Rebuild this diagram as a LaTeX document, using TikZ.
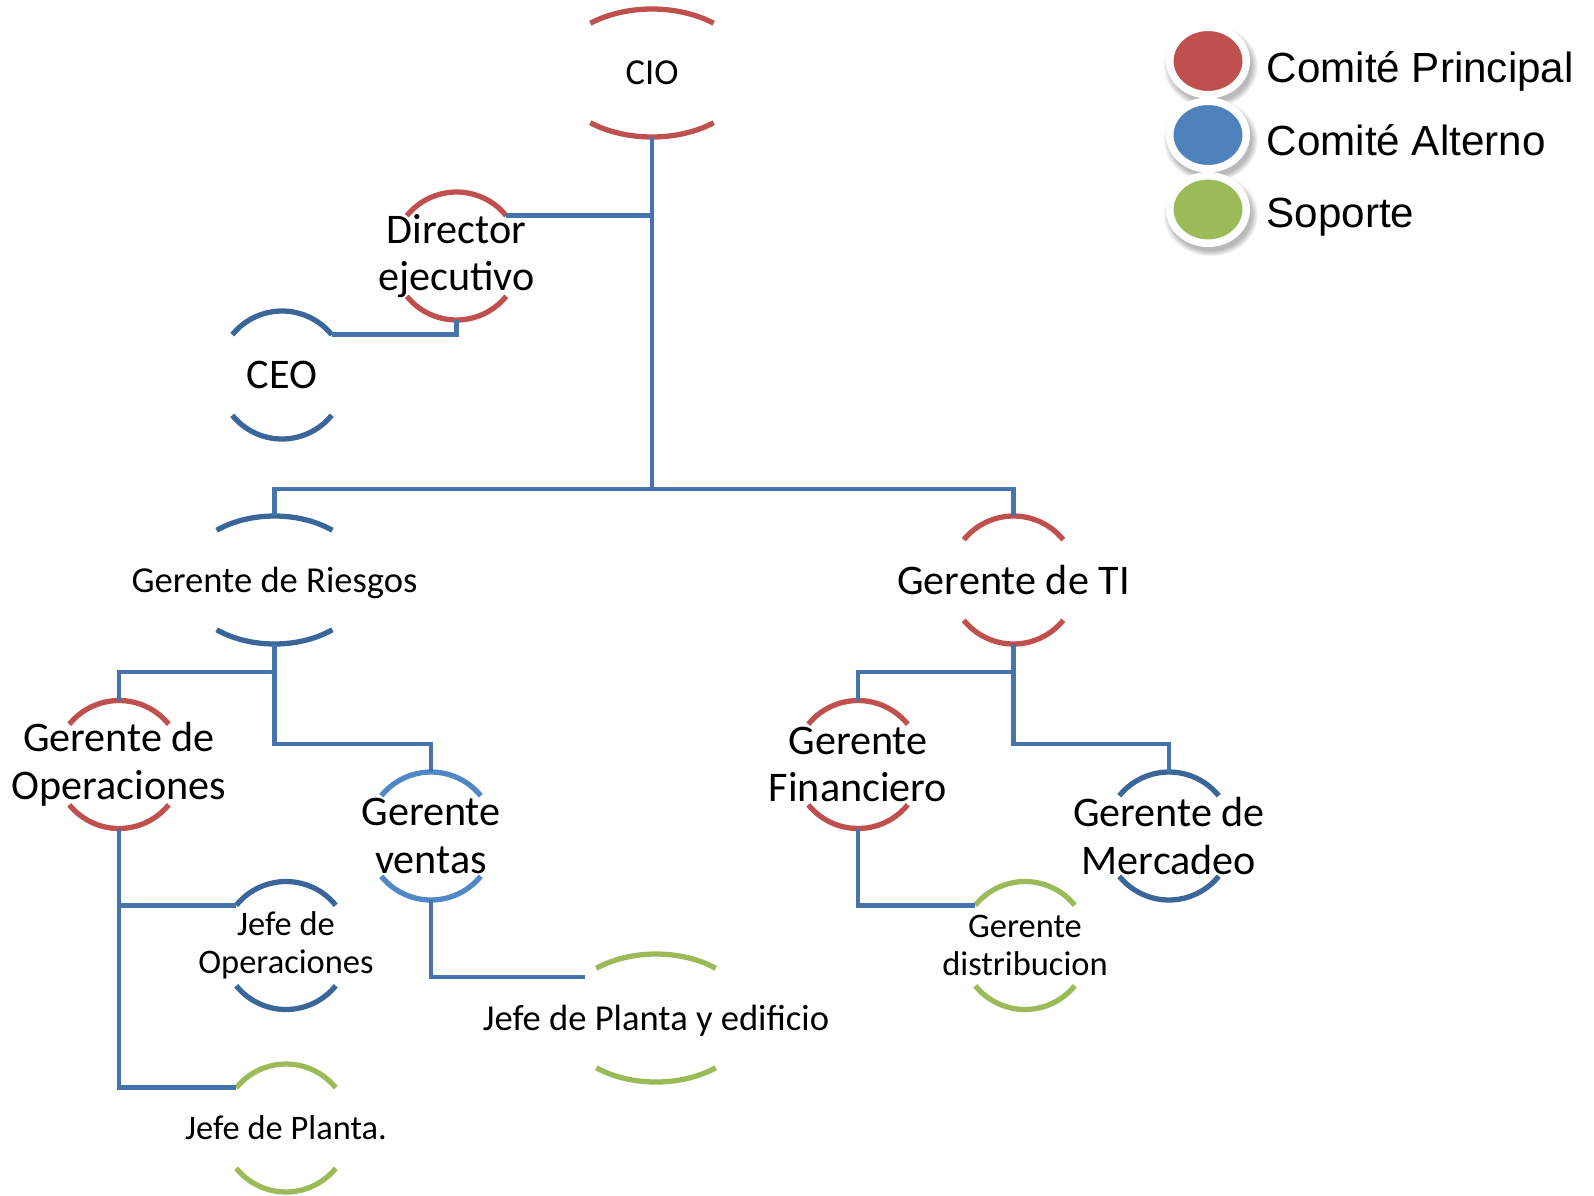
\documentclass[tikz,border=0pt]{standalone}
\usepackage{fontspec}
\setmainfont{Carlito}
\newfontfamily\legendfont{Liberation Sans}
\usetikzlibrary{shapes.geometric,shadows}

\definecolor{cpred}{HTML}{C0504D}
\definecolor{cpblue}{HTML}{4F81BD}
\definecolor{cpgreen}{HTML}{9BBB59}
\definecolor{cpdark}{HTML}{3B6699}
\definecolor{cplight}{HTML}{5087C6}
\definecolor{cpline}{HTML}{4573AB}

\tikzset{
    unit/.style ={
        shape=rectangle,
        inner sep=0pt,
        outer sep=0pt,
        minimum height=1.28cm,
        align=center,
        text=black
    },
    bigtext/.style ={
        unit,
        font=\fontsize{12}{13.6}\selectfont
    },
    midtext/.style ={
        unit,
        text depth=0pt,
        font=\fontsize{10.4}{12}\selectfont
    },
    smalltext/.style ={
        unit,
        font=\fontsize{9.8}{10.8}\selectfont
    },
    redarc/.style ={draw=cpred, line width=1.5pt},
    darkarc/.style ={draw=cpdark, line width=1.5pt},
    lightarc/.style ={draw=cplight, line width=1.5pt},
    greenarc/.style ={draw=cpgreen, line width=1.5pt},
    link/.style ={draw=cpline, line width=1.4pt},
    legdot/.style ={
        shape=ellipse,
        draw=white,
        line width=0.75mm,
        minimum width=0.765cm,
        minimum height=0.675cm,
        inner sep=0pt,
        circular drop shadow={shadow scale=1.24, opacity=0.55,
            shadow xshift=0.2mm, shadow yshift=-0.4mm}
    },
    legtext/.style ={
        anchor=base west,
        inner sep=0pt,
        font=\legendfont\fontsize{12}{14}\selectfont
    }
}

% top and bottom arcs of a unit, plus its upper end points
% #1 node, #2 arc style, #3 x radius, #4 angle
\newcommand\unitarcs[4]{%
    \draw[#2] ([shift={(#4:#3 and 0.64)}]#1.center)
        arc[start angle=#4, end angle=180-#4, x radius=#3, y radius=0.64];
    \draw[#2] ([shift={(180+#4:#3 and 0.64)}]#1.center)
        arc[start angle=180+#4, end angle=360-#4, x radius=#3, y radius=0.64];
    \coordinate (#1-tl) at ([shift={(180-#4:#3 and 0.64)}]#1.center);
    \coordinate (#1-tr) at ([shift={(#4:#3 and 0.64)}]#1.center);
}

\begin{document}
\begin{tikzpicture}
    \useasboundingbox (0,0) rectangle (15.94,-11.95);

    % units
    \node[midtext] (cio) at(6.52,-0.73) {CIO};
    \node[bigtext] (dir) at(4.565,-2.56) {Director\\ejecutivo};
    \node[bigtext, text depth=0pt] (ceo) at(2.82,-3.75) {CEO};
    \node[midtext] (riesgos) at(2.745,-5.80) {Gerente de Riesgos};
    \node[bigtext, text depth=0pt] (ti) at(10.135,-5.80) {Gerente de TI};
    \node[bigtext] (ops) at(1.19,-7.645) {Gerente de\\Operaciones};
    \node[bigtext] (ventas) at(4.31,-8.36) {Gerente\\ventas};
    \node[bigtext] (fin) at(8.58,-7.645) {Gerente\\Financiero};
    \node[bigtext] (merc) at(11.69,-8.36) {Gerente de\\Mercadeo};
    \node[smalltext] (jop) at(2.86,-9.455) {Jefe de\\Operaciones};
    \node[smalltext, text depth=0pt] (jpl) at(2.86,-11.28) {Jefe de Planta.};
    \node[midtext] (edif) at(6.56,-10.18) {Jefe de Planta y edificio};
    \node[smalltext] (dist) at(10.25,-9.455) {Gerente\\distribucion};

    \unitarcs{cio}{redarc}{0.98}{51}
    \unitarcs{dir}{redarc}{0.64}{39}
    \unitarcs{ceo}{darkarc}{0.64}{39}
    \unitarcs{riesgos}{darkarc}{0.92}{51}
    \unitarcs{ti}{redarc}{0.64}{39}
    \unitarcs{ops}{redarc}{0.64}{39}
    \unitarcs{ventas}{lightarc}{0.64}{39}
    \unitarcs{fin}{redarc}{0.64}{39}
    \unitarcs{merc}{darkarc}{0.64}{39}
    \unitarcs{jop}{darkarc}{0.64}{39}
    \unitarcs{jpl}{greenarc}{0.64}{39}
    \unitarcs{edif}{greenarc}{0.95}{51}
    \unitarcs{dist}{greenarc}{0.64}{39}

    % connectors
    \coordinate (bar) at(6.52,-4.89);
    \coordinate (edif-in) at([shift={(-0.715,0.41)}]edif.center);
    \draw[link] (cio.south) -- (bar);
    \draw[link] (riesgos.north) |- (bar) -| (ti.north);
    \draw[link] (dir-tr) -- (dir-tr -| cio.south);
    \draw[link] (ceo-tr) -| (dir.south);
    \draw[link] (riesgos.south) -- ++(0,-0.28) -| (ops.north);
    \draw[link] (riesgos.south) -- ++(0,-1.0) -| (ventas.north);
    \draw[link] (ti.south) -- ++(0,-0.28) -| (fin.north);
    \draw[link] (ti.south) -- ++(0,-1.0) -| (merc.north);
    \draw[link] (ops.south) |- (jop-tl);
    \draw[link] (ops.south) |- (jpl-tl);
    \draw[link] (ventas.south) |- (edif-in);
    \draw[link] (fin.south) |- (dist-tl);

    % legend
    \node[legdot, fill=cpred] (k1) at(12.08,-0.61) {};
    \node[legdot, fill=cpblue] (k2) at(12.08,-1.35) {};
    \node[legdot, fill=cpgreen] (k3) at(12.08,-2.095) {};
    \node[legtext] (t1) at(12.66,-0.82) {Comité Principal};
    \node[legtext] (t2) at(12.66,-1.555) {Comité Alterno};
    \node[legtext] (t3) at(12.66,-2.275) {Soporte};
\end{tikzpicture}
\end{document}
